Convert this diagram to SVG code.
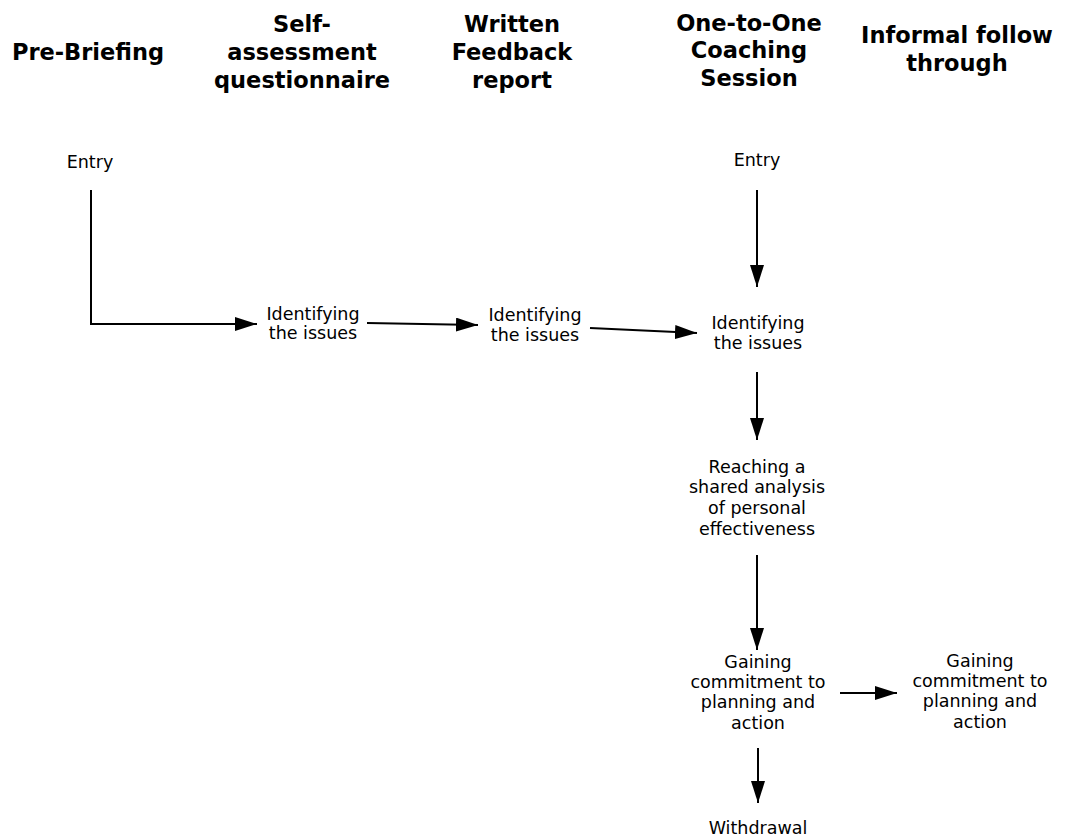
<svg xmlns="http://www.w3.org/2000/svg" width="1088" height="839" viewBox="0 0 1088 839">
<style>
.h{font-family:"DejaVu Sans",Verdana,sans-serif;font-weight:bold;font-size:22.5px;fill:#000;text-anchor:middle}
.t{font-family:"DejaVu Sans",Verdana,sans-serif;font-size:17.5px;fill:#000;text-anchor:middle}
.c{stroke:#000;stroke-width:2;fill:none}
</style>
<defs>
<marker id="b" viewBox="0 0 22 14" refX="22" refY="7" markerWidth="22" markerHeight="14" markerUnits="userSpaceOnUse" orient="auto">
<path d="M0,0 L22,7 L0,14 Z" fill="#000"/>
</marker>
</defs>
<rect width="1088" height="839" fill="#fff"/>
<g id="headers">
<text class="h" x="88" y="60">Pre-Briefing</text>
<text class="h" x="302" y="32">Self-</text>
<text class="h" x="302" y="60">assessment</text>
<text class="h" x="302" y="88">questionnaire</text>
<text class="h" x="512" y="32">Written</text>
<text class="h" x="512" y="60">Feedback</text>
<text class="h" x="512" y="88">report</text>
<text class="h" x="749" y="31">One-to-One</text>
<text class="h" x="749" y="58">Coaching</text>
<text class="h" x="749" y="86">Session</text>
<text class="h" x="957" y="43">Informal follow</text>
<text class="h" x="957" y="71">through</text>
</g>
<g id="connectors">
<path class="c" d="M91,190 V324 H257" marker-end="url(#b)"/>
<path class="c" d="M367,323 L478,325" marker-end="url(#b)"/>
<path class="c" d="M590,328 L697,333" marker-end="url(#b)"/>
<path class="c" d="M757,190 V287" marker-end="url(#b)"/>
<path class="c" d="M757,372 V440" marker-end="url(#b)"/>
<path class="c" d="M757,555 V650" marker-end="url(#b)"/>
<path class="c" d="M758,748 V803" marker-end="url(#b)"/>
<path class="c" d="M840,693 L897,693" marker-end="url(#b)"/>
</g>
<g id="entry1"><text class="t" x="90" y="168">Entry</text></g>
<g id="identify1"><text class="t" x="313" y="320">Identifying</text><text class="t" x="313" y="339">the issues</text></g>
<g id="identify2"><text class="t" x="535" y="321">Identifying</text><text class="t" x="535" y="341">the issues</text></g>
<g id="entry2"><text class="t" x="757" y="166">Entry</text></g>
<g id="identify3"><text class="t" x="758" y="329">Identifying</text><text class="t" x="758" y="349">the issues</text></g>
<g id="reaching"><text class="t" x="757" y="473">Reaching a</text><text class="t" x="757" y="493">shared analysis</text><text class="t" x="757" y="514">of personal</text><text class="t" x="757" y="535">effectiveness</text></g>
<g id="gaining1"><text class="t" x="758" y="668">Gaining</text><text class="t" x="758" y="688">commitment to</text><text class="t" x="758" y="708">planning and</text><text class="t" x="758" y="729">action</text></g>
<g id="withdrawal"><text class="t" x="758" y="834">Withdrawal</text></g>
<g id="gaining2"><text class="t" x="980" y="667">Gaining</text><text class="t" x="980" y="687">commitment to</text><text class="t" x="980" y="707">planning and</text><text class="t" x="980" y="728">action</text></g>
</svg>
